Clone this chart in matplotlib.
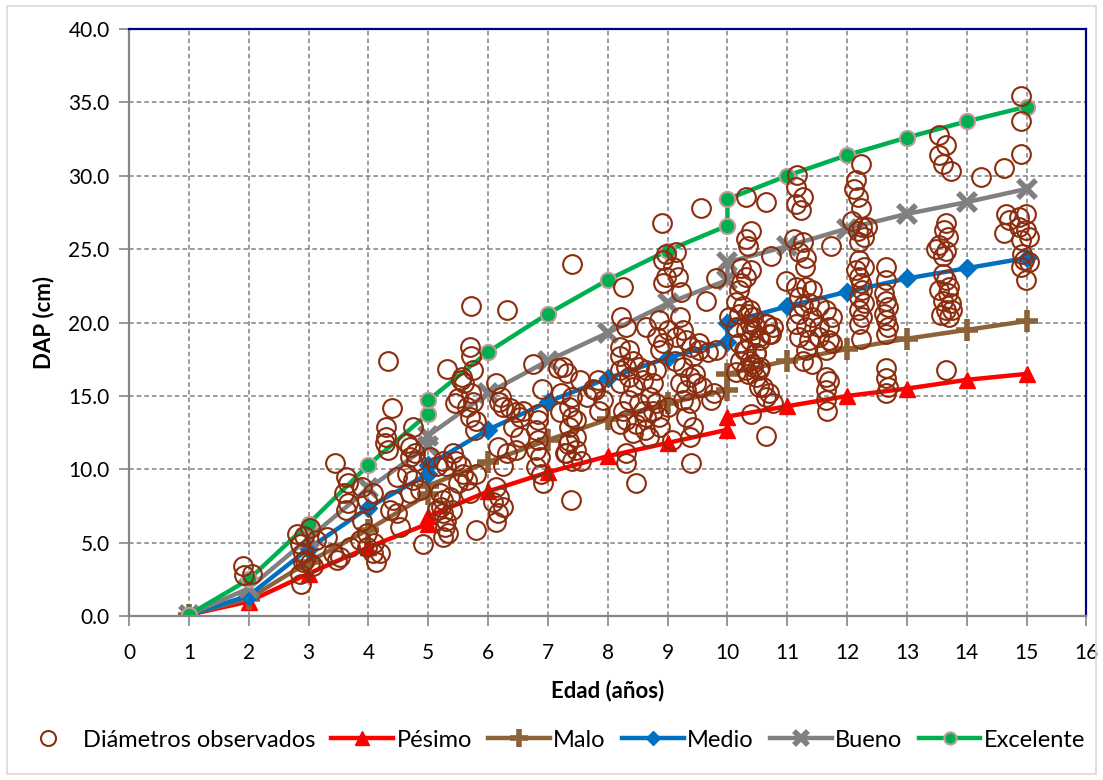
import matplotlib
matplotlib.use("Agg")
import matplotlib.pyplot as plt
from matplotlib.patches import Rectangle
from matplotlib.ticker import FormatStrFormatter, MultipleLocator

plt.rcParams['font.family'] = ['Lato', 'DejaVu Sans']

# curve ages (duplicated at 5 and 10 where the segments join)
edad = [1, 2, 3, 4, 5, 5, 6, 7, 8, 9, 10, 10, 11, 12, 13, 14, 15]

pesimo = [0.1, 1.0, 2.9, 4.7, 6.3, 6.8, 8.5, 9.8, 10.9, 11.8, 12.7, 13.6, 14.3, 15.0, 15.5, 16.1, 16.5]
malo = [0.1, 1.2, 3.7, 5.9, 8.3, 8.9, 10.5, 12.0, 13.4, 14.5, 15.4, 16.5, 17.4, 18.2, 18.9, 19.5, 20.1]
medio = [0.1, 1.4, 4.6, 7.4, 9.7, 10.3, 12.7, 14.6, 16.2, 17.6, 18.7, 20.0, 21.1, 22.1, 23.0, 23.7, 24.4]
bueno = [0.1, 1.9, 5.3, 8.7, 11.6, 12.3, 15.2, 17.4, 19.3, 21.3, 22.9, 24.1, 25.2, 26.4, 27.4, 28.2, 29.1]
excelente = [0.1, 2.5, 6.3, 10.3, 13.8, 14.7, 18.0, 20.6, 22.9, 24.9, 26.6, 28.4, 30.0, 31.4, 32.6, 33.7, 34.7]

obs = [
    (1.9, 3.4), (1.92, 2.8), (2.06, 2.9),
    (2.8, 5.6), (2.85, 4.95), (2.91, 4.3), (3.02, 3.6), (3.08, 3.4), (2.85, 2.9), (2.88, 2.2),
    (2.94, 3.8), (3.13, 5.2), (2.92, 5.45), (3.03, 6.0), (3.3, 5.4), (2.9, 3.7),
    (3.44, 10.4), (3.63, 9.5), (3.66, 9.06), (3.6, 8.4), (3.66, 7.7), (3.63, 7.2), (3.9, 8.8),
    (4.07, 8.4), (3.97, 7.9), (3.41, 4.3), (3.47, 3.8), (3.52, 4.0), (3.69, 4.7), (3.97, 4.7),
    (4.08, 4.3), (3.9, 6.5), (3.97, 5.65), (3.86, 5.2), (4.1, 5.0), (4.19, 4.3), (4.13, 3.7),
    (4.32, 17.4), (4.39, 14.2), (4.3, 12.9), (4.3, 12.2), (4.27, 11.8), (4.32, 11.3), (4.41, 7.9),
    (4.36, 7.2), (4.47, 7.0), (4.52, 6.1), (4.47, 9.5),
    (4.74, 12.9), (4.64, 11.8), (4.69, 11.5), (4.78, 11.1), (4.69, 10.85), (4.8, 10.6), (4.64, 9.7),
    (4.75, 9.3), (4.86, 8.6), (4.69, 8.4), (4.91, 4.95),
    (5.31, 16.85), (5.57, 16.3), (5.6, 15.9), (5.55, 16.1), (5.5, 14.85), (5.45, 14.5), (5.64, 14.26),
    (5.69, 13.6), (5.72, 21.1), (5.7, 18.35), (5.72, 17.7),
    (5.03, 10.85), (5.14, 10.2), (5.24, 10.6), (5.3, 10.2), (5.41, 11.1), (5.47, 10.6), (5.55, 10.2),
    (5.58, 9.7), (5.64, 9.3), (5.5, 9.05), (5.69, 8.4), (5.36, 8.1),
    (5.19, 8.4), (5.25, 7.9), (5.22, 7.45), (5.25, 7.0), (5.3, 6.5), (5.28, 6.1), (5.33, 5.65),
    (5.25, 5.4), (5.39, 7.2), (5.14, 7.2), (5.8, 5.85),
    (5.75, 16.8), (5.72, 15.2), (5.75, 14.6), (5.8, 13.3), (5.78, 12.7), (5.8, 9.7),
    (6.32, 20.85), (6.75, 17.2), (6.14, 15.85), (6.22, 14.9), (6.25, 14.26), (6.19, 14.6), (6.36, 14.15),
    (6.47, 13.9), (6.53, 13.6), (6.58, 14.0), (6.41, 12.9), (6.53, 12.2),
    (6.83, 13.35), (6.8, 12.67), (6.83, 11.99), (6.8, 11.3), (6.86, 10.85), (6.8, 10.17), (6.89, 9.7),
    (6.92, 9.04), (6.17, 11.5), (6.31, 11.1), (6.47, 11.3), (6.25, 10.2),
    (6.14, 8.8), (6.19, 8.13), (6.08, 7.8), (6.25, 7.45), (6.17, 7.0), (6.14, 6.4), (6.83, 13.8), (6.9, 15.5),
    (7.4, 23.96), (7.17, 16.9), (7.25, 17.0), (7.32, 16.55), (7.75, 15.5), (7.83, 16.1), (7.22, 15.17),
    (7.41, 14.95), (7.53, 16.1), (7.2, 13.9), (7.36, 14.26), (7.41, 13.6), (7.36, 12.9), (7.47, 12.2),
    (7.36, 11.9), (7.31, 11.1), (7.47, 11.3), (7.55, 10.6), (7.41, 10.6), (7.39, 7.9), (7.47, 13.35),
    (7.34, 11.76), (7.28, 11.1), (7.79, 15.4), (7.92, 14.7), (7.66, 14.95), (7.85, 14.0),
    (8.25, 22.4), (8.22, 20.4), (8.31, 19.7), (8.64, 19.7), (8.2, 18.35), (8.36, 18.1), (8.2, 17.7),
    (8.42, 17.4), (8.31, 17.0), (8.53, 17.0), (8.2, 16.76), (8.64, 16.76), (8.36, 16.3), (8.59, 16.1),
    (8.2, 15.85), (8.42, 15.6), (8.81, 16.76), (8.75, 15.85), (8.7, 14.9), (8.53, 14.5), (8.81, 14.5),
    (8.36, 14.7), (8.25, 14.0), (8.59, 14.0), (8.75, 14.0), (8.31, 13.35), (8.47, 13.1), (8.64, 13.6),
    (8.86, 13.6), (8.2, 13.1), (8.43, 12.45), (8.63, 12.67), (8.69, 12.2), (8.88, 12.9), (8.31, 11.1),
    (8.31, 10.4), (8.47, 9.1),
    (8.91, 26.75), (8.98, 24.7), (9.14, 24.8), (8.92, 24.25), (9.09, 23.8), (8.98, 23.1), (8.92, 22.66),
    (9.17, 23.1), (9.22, 22.1), (8.86, 20.2), (9.2, 20.4), (9.25, 19.5), (8.92, 18.6), (9.14, 19.0),
    (9.31, 18.8), (9.39, 18.35), (9.53, 18.6), (9.42, 17.7), (9.53, 18.1), (9.67, 18.0), (9.81, 18.1),
    (9.01, 19.5), (8.82, 19.0), (8.88, 18.1), (9.13, 17.4), (9.26, 17.0), (9.45, 16.5),
    (9.56, 27.8), (9.81, 23.0), (9.64, 21.5), (9.2, 15.85), (9.37, 16.3), (9.48, 15.85), (9.31, 15.4),
    (9.25, 14.7), (9.37, 14.5), (9.31, 13.6), (9.42, 12.9), (9.37, 12.2), (9.73, 14.7), (9.39, 10.4),
    (9.58, 15.6), (9.01, 14.26), (9.07, 12.0), (9.77, 15.2),
    (10.03, 20.4), (10.35, 20.6), (10.15, 19.7), (10.41, 19.5), (10.66, 19.9), (10.72, 19.25),
    (10.54, 18.8), (10.28, 18.1), (10.21, 17.4), (10.41, 17.2), (10.35, 16.5), (10.15, 16.6),
    (10.54, 17.0), (10.47, 17.9),
    (10.31, 28.56), (10.64, 28.2), (10.4, 26.2), (10.31, 25.7), (10.34, 25.2), (10.73, 24.5),
    (10.23, 23.7), (10.39, 23.6), (10.31, 23.1), (10.23, 22.66), (10.98, 22.8), (10.2, 22.2),
    (10.15, 21.4), (10.26, 21.1), (10.37, 20.85), (10.42, 20.4), (10.2, 20.6),
    (10.37, 19.9), (10.31, 19.5), (10.48, 19.7), (10.64, 19.9), (10.76, 19.7), (10.7, 19.25),
    (10.53, 19.0), (10.37, 18.8), (10.2, 18.6), (10.31, 18.1), (10.48, 17.9), (10.37, 17.4),
    (10.42, 17.0), (10.53, 16.8), (10.31, 16.8), (10.48, 16.3), (10.59, 15.6), (10.7, 15.2),
    (10.76, 14.5), (10.64, 14.95), (10.53, 15.6), (10.4, 13.8), (10.64, 12.3),
    (11.17, 30.04), (11.14, 29.25), (11.26, 28.56), (11.14, 28.1), (11.23, 27.66), (11.12, 25.7),
    (11.26, 25.5), (11.2, 24.8), (11.31, 24.4), (11.29, 23.8), (11.73, 25.2),
    (11.14, 22.4), (11.31, 22.4), (11.42, 22.2), (11.2, 21.75), (11.37, 21.3), (11.26, 21.1),
    (11.53, 21.1), (11.2, 20.6), (11.42, 20.4), (11.64, 20.85), (11.75, 20.4), (11.7, 19.7),
    (11.53, 19.7), (11.31, 19.7), (11.14, 19.9), (11.2, 19.0), (11.37, 18.8), (11.53, 19.0),
    (11.75, 18.6), (11.64, 18.1), (11.31, 18.1), (11.26, 17.4), (11.42, 17.2), (11.7, 18.8),
    (11.64, 16.3), (11.64, 15.4), (11.64, 14.7), (11.66, 14.0), (11.69, 16.0),
    (12.23, 30.8), (12.15, 29.7), (12.12, 29.1), (12.18, 28.56), (12.23, 27.77), (12.09, 26.9),
    (12.25, 26.5), (12.18, 26.2), (12.29, 25.8), (12.2, 25.5), (12.34, 26.5),
    (12.2, 24.25), (12.29, 23.8), (12.15, 23.6), (12.2, 23.1), (12.23, 22.66), (12.25, 22.2),
    (12.2, 21.75), (12.29, 21.3), (12.2, 20.85), (12.25, 20.4), (12.2, 19.9), (12.23, 18.9),
    (12.65, 23.8), (12.65, 22.9), (12.62, 22.0), (12.65, 21.5), (12.68, 21.07), (12.62, 20.6),
    (12.65, 20.2), (12.68, 19.7), (12.65, 19.25),
    (12.65, 16.9), (12.65, 16.2), (12.68, 15.6), (12.65, 15.2),
    (13.54, 32.8), (13.65, 32.1), (13.54, 31.4), (13.6, 30.8), (13.73, 30.3), (13.65, 26.75),
    (13.62, 26.3), (13.68, 25.8), (13.54, 25.3), (13.48, 25.0), (13.65, 24.9), (13.6, 24.5),
    (13.6, 23.3), (13.65, 22.9), (13.71, 22.4), (13.54, 22.2), (13.68, 22.0), (13.6, 21.5),
    (13.73, 21.3), (13.65, 20.85), (13.57, 20.5), (13.76, 20.85), (13.71, 20.4), (13.65, 16.76),
    (14.9, 35.4), (14.9, 33.7), (14.9, 31.5), (14.62, 30.5), (14.23, 29.9), (14.65, 27.4),
    (14.7, 27.0), (14.62, 26.1), (14.87, 27.2), (14.99, 27.4), (14.87, 26.5), (14.99, 26.3),
    (15.04, 25.8), (14.9, 25.6), (14.93, 24.7), (14.96, 24.25), (15.04, 24.1), (14.9, 23.8),
    (14.99, 22.9),
]
obs_edad = [p[0] for p in obs]
obs_dap = [p[1] for p in obs]

fig = plt.figure(figsize=(11.03, 7.80), dpi=100)
ax = fig.add_axes([0.117, 0.21, 0.868, 0.753])

lw = 3.2
l1, = ax.plot(edad, pesimo, color='#FF0000', lw=lw, marker='^', ms=12, label='Pésimo', zorder=2)
l2, = ax.plot(edad, malo, color='#8C6239', lw=lw, marker='+', ms=16, mew=4, label='Malo', zorder=2)
l3, = ax.plot(edad, medio, color='#0070C0', lw=lw, marker='D', ms=9, label='Medio', zorder=2)
l4, = ax.plot(edad, bueno, color='#808080', lw=lw, marker='x', ms=13, mew=4, label='Bueno', zorder=2)
l5, = ax.plot(edad, excelente, color='#00B050', lw=lw, marker='o', ms=11, mfc='#00B050',
              mec='#C49A9A', mew=1.5, label='Excelente', zorder=2)
sc, = ax.plot(obs_edad, obs_dap, ls='none', marker='o', ms=13.5, mfc='none', mec='#8B2D0E',
              mew=1.5, label='Diámetros observados', zorder=3)

ax.set_xlim(0, 16)
ax.set_ylim(0, 40)
ax.xaxis.set_major_locator(MultipleLocator(1))
ax.yaxis.set_major_locator(MultipleLocator(5))
ax.yaxis.set_major_formatter(FormatStrFormatter('%.1f'))
ax.grid(True, color='#808080', ls=(0, (3, 2)), lw=1.1)
ax.set_axisbelow(True)

for s in ['top', 'right']:
    ax.spines[s].set_color('#000080')
    ax.spines[s].set_linewidth(1.6)
for s in ['left', 'bottom']:
    ax.spines[s].set_color('#868686')
    ax.spines[s].set_linewidth(1.6)
ax.tick_params(direction='out', length=7, width=1.2, color='#868686', labelsize=15, pad=7)
ax.tick_params(axis='x', pad=12)

ax.set_xlabel('Edad (años)', fontsize=16, fontweight='bold', labelpad=12)
ax.set_ylabel('DAP (cm)', fontsize=16, fontweight='bold', labelpad=10)

fig.legend(handles=[sc, l1, l2, l3, l4, l5], loc='center', bbox_to_anchor=(0.5, 0.051), ncol=6,
           frameon=False, fontsize=17, handlelength=2.6, handletextpad=0.15, columnspacing=0.7,
           markerscale=0.8)

fig.patches.append(Rectangle((0.006, 0.008), 0.988, 0.984, transform=fig.transFigure,
                             fill=False, edgecolor='#D9D9D9', lw=1.2))

fig.savefig('out.png', dpi=100)
plt.close(fig)
